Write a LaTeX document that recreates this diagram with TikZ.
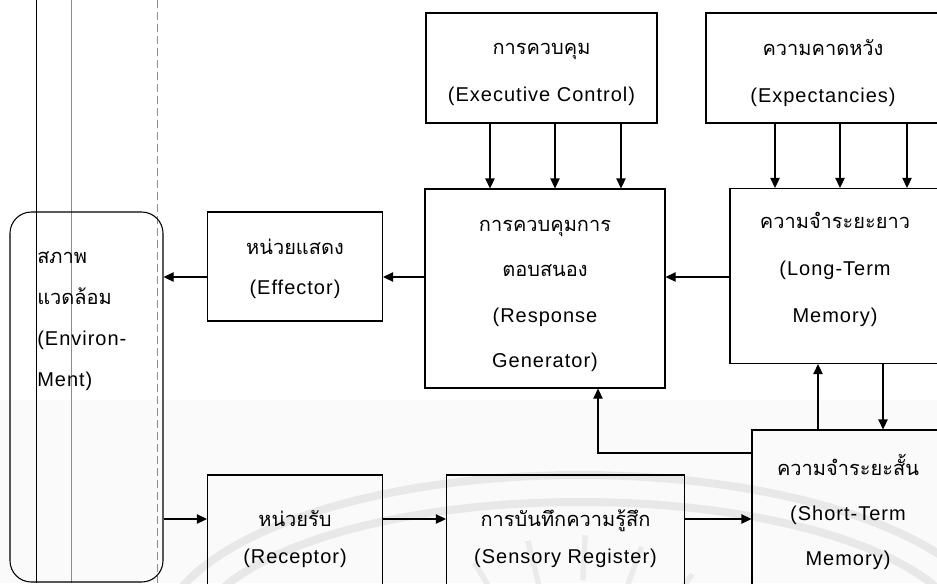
\documentclass[tikz,border=0pt]{standalone}
\usepackage{fontspec}
\setmainfont[LetterSpace=5]{Liberation Sans}
\newfontfamily\thai[Script=Thai]{Loma}
\usetikzlibrary{arrows.meta}
\begin{document}
\begin{tikzpicture}[x=0.75pt,y=-0.75pt,
  box/.style={draw,line width=0.8pt,rectangle,inner sep=0pt},
  txt/.style={align=center,inner sep=0pt,font=\fontsize{15}{#1}\selectfont},
  arr/.style={line width=0.8pt,-{Triangle[length=7.5pt,width=7pt]}},
  wmark/.style={black!9,line width=6pt}]
\useasboundingbox (0,0) rectangle (937,583);
\clip (0,0) rectangle (937,583);

% faint tone of the lower half and the watermark behind it
\fill[black!2] (0,400) rectangle (937,583);
\draw[wmark] (160,640) arc[start angle=180,end angle=360,x radius=420,y radius=165];
\draw[wmark] (195,640) arc[start angle=180,end angle=360,x radius=385,y radius=138];
\foreach \a in {205,222,...,340}
  \draw[black!8,line width=4pt] (575,730) ++(\a:150) -- ++(\a:45);

% margin rules on the left
\draw[line width=0.7pt] (36,0) -- (36,583);
\draw[black!45,line width=0.7pt] (71,0) -- (71,583);
\draw[black!45,line width=0.6pt,dash pattern=on 6pt off 3pt] (157,0) -- (157,583);

% boxes, each with its caption as a centred label
\node[box,minimum width=231*0.75pt,minimum height=110*0.75pt,
  label={[txt=35pt,yshift=-5pt]center:{\thai การควบคุม}\\(Executive Control)}] (exec) at (541.5,68) {};
\node[box,minimum width=234*0.75pt,minimum height=110*0.75pt,
  label={[txt=35pt,yshift=-4pt]center:{\thai ความคาดหวัง}\\(Expectancies)}] (expect) at (823,68) {};
\node[box,minimum width=240*0.75pt,minimum height=199*0.75pt,
  label={[txt=34pt,yshift=-5.5pt]center:{\thai การควบคุมการ}\\{\thai ตอบสนอง}\\(Response\\Generator)}] (resp) at (545,288.5) {};
\node[box,minimum width=210*0.75pt,minimum height=175*0.75pt,
  label={[txt=35pt,yshift=5pt]center:{\thai ความจำระยะยาว}\\(Long-Term\\Memory)}] (ltm) at (835,276) {};
\node[box,minimum width=175*0.75pt,minimum height=109*0.75pt,
  label={[txt=30pt,yshift=-1.5pt]center:{\thai หน่วยแสดง}\\(Effector)}] (eff) at (295,266.5) {};
\node[box,rounded corners=16pt,minimum width=153*0.75pt,minimum height=370*0.75pt] (env) at (86.5,397) {};
\node[anchor=west,align=left,inner sep=0pt,font=\fontsize{15}{30.75pt}\selectfont] (envtext) at (37,321)
  {{\thai สภาพ}\\{\thai แวดล้อม}\\(Environ-\\Ment)};
\node[box,minimum width=175*0.75pt,minimum height=125*0.75pt,
  label={[txt=28pt,yshift=-1pt]center:{\thai หน่วยรับ}\\(Receptor)}] (rec) at (295,537.5) {};
\node[box,minimum width=238*0.75pt,minimum height=125*0.75pt,
  label={[txt=28pt,yshift=-1pt]center:{\thai การบันทึกความรู้สึก}\\(Sensory Register)}] (sens) at (565.5,537.5) {};
\node[box,minimum width=192*0.75pt,minimum height=164*0.75pt,
  label={[txt=33.75pt]center:{\thai ความจำระยะสั้น}\\(Short-Term\\Memory)}] (stm) at (848,512) {};

% guide positions for the parallel connectors
\coordinate (ex1) at (490,0);
\coordinate (ex2) at (555,0);
\coordinate (ex3) at (621,0);
\coordinate (ep1) at (775,0);
\coordinate (ep2) at (840,0);
\coordinate (ep3) at (907,0);
\coordinate (up) at (818,0);
\coordinate (down) at (883,0);
\coordinate (back) at (598,453);
\coordinate (outrow) at (0,277);
\coordinate (inrow) at (0,519);

% control and expectancy links
\foreach \g in {ex1,ex2,ex3} \draw[arr] (exec.south -| \g) -- (resp.north -| \g);
\foreach \g in {ep1,ep2,ep3} \draw[arr] (expect.south -| \g) -- (ltm.north -| \g);

% output path
\draw[arr] (ltm.west |- outrow) -- (resp.east |- outrow);
\draw[arr] (resp.west |- outrow) -- (eff.east |- outrow);
\draw[arr] (eff.west |- outrow) -- (env.east |- outrow);

% input path
\draw[arr] (env.east |- inrow) -- (rec.west |- inrow);
\draw[arr] (rec.east |- inrow) -- (sens.west |- inrow);
\draw[arr] (sens.east |- inrow) -- (stm.west |- inrow);

% memory exchange
\draw[arr] (stm.north -| up) -- (ltm.south -| up);
\draw[arr] (ltm.south -| down) -- (stm.north -| down);
\draw[arr] (stm.west |- back) -- (back) -- (resp.south -| back);
\end{tikzpicture}
\end{document}
